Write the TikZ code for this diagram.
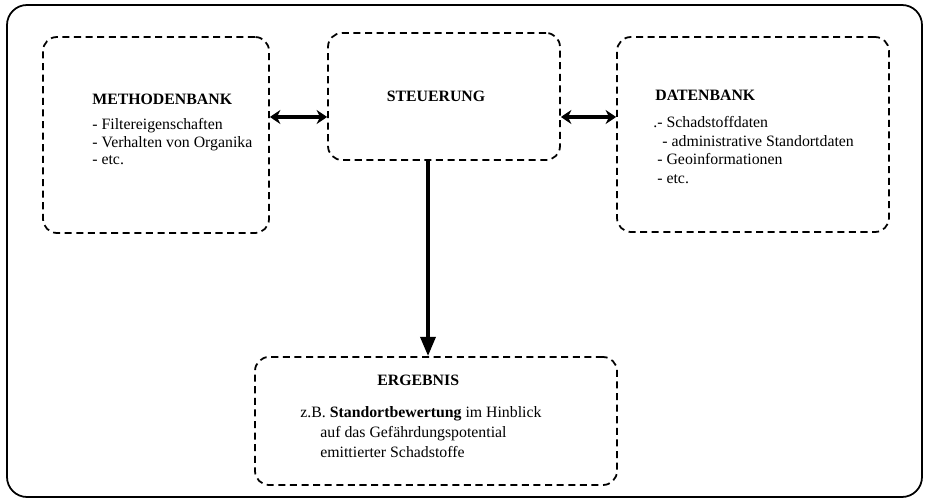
\documentclass[tikz,border=0pt]{standalone}
\usepackage{fontspec}
\setmainfont{Liberation Serif}
\usetikzlibrary{arrows.meta}

\begin{document}
\begin{tikzpicture}[
    font=\fontsize{9}{11}\selectfont,
    box/.style={draw=black,line width=1pt,dash pattern=on 4pt off 2.6pt,rounded corners=.28cm,inner sep=0pt},
    head/.style={font=\fontsize{9}{11}\selectfont\bfseries,anchor=base west,inner sep=0pt},
    item/.style={anchor=base west,inner sep=0pt},
    harrow/.style={line width=2pt,{Stealth[length=6pt,width=8pt,inset=2pt]}-{Stealth[length=6pt,width=8pt,inset=2pt]}},
    varrow/.style={line width=2.2pt,-{Triangle[length=11pt,width=8.5pt]}}
]
\useasboundingbox (0,0) rectangle (18.5,-10);

% Draw the outer frame
\draw[color=black,line width=1pt,rounded corners=.4cm] (.14,-.1) rectangle (18.44,-9.94);

% Draw the four boxes
\node[box,minimum width=4.52cm,minimum height=3.92cm] (meth) at (3.12,-2.7) {};
\node[box,minimum width=4.64cm,minimum height=2.54cm] (steu) at (8.88,-1.93) {};
\node[box,minimum width=5.44cm,minimum height=3.9cm] (dat) at (15.06,-2.69) {};
\node[box,minimum width=7.24cm,minimum height=2.56cm] (erg) at (8.72,-8.42) {};

% Draw the texts of the boxes
\node[head] (methtitle) at (1.84,-2.1) {METHODENBANK};
\foreach \txt [count=\i] in {- Filtereigenschaften,- Verhalten von Organika,- etc.} {
    \node[item] (methitem\i) at (1.84,-2.25-.35*\i) {\txt};
}
\node[head,anchor=base] (steutitle) at (8.72,-2.04) {STEUERUNG};
\node[head] (dattitle) at (13.1,-2.02) {DATENBANK};
\node[item] (datitem1) at (13.06,-2.56) {.- Schadstoffdaten};
\node[item] (datitem2) at (13.24,-2.93) {- administrative Standortdaten};
\node[item] (datitem3) at (13.14,-3.3) {- Geoinformationen};
\node[item] (datitem4) at (13.14,-3.67) {- etc.};
\node[head] (ergtitle) at (7.54,-7.72) {ERGEBNIS};
\node[item] (ergitem1) at (6.0,-8.36) {z.B. \textbf{Standortbewertung} im Hinblick};
\node[item] (ergitem2) at (6.4,-8.76) {auf das Gefährdungspotential};
\node[item] (ergitem3) at (6.4,-9.16) {emittierter Schadstoffe};

% Draw the arrows between the boxes
\coordinate (lm) at ([yshift=.36cm]meth.east);
\coordinate (rm) at ([yshift=.35cm]dat.west);
\coordinate (vm) at ([xshift=-.32cm]steu.south);
\draw[harrow] (lm) -- (lm -| steu.west);
\draw[harrow] (rm -| steu.east) -- (rm);
\draw[varrow] (vm) -- (vm |- erg.north);

\end{tikzpicture}
\end{document}
